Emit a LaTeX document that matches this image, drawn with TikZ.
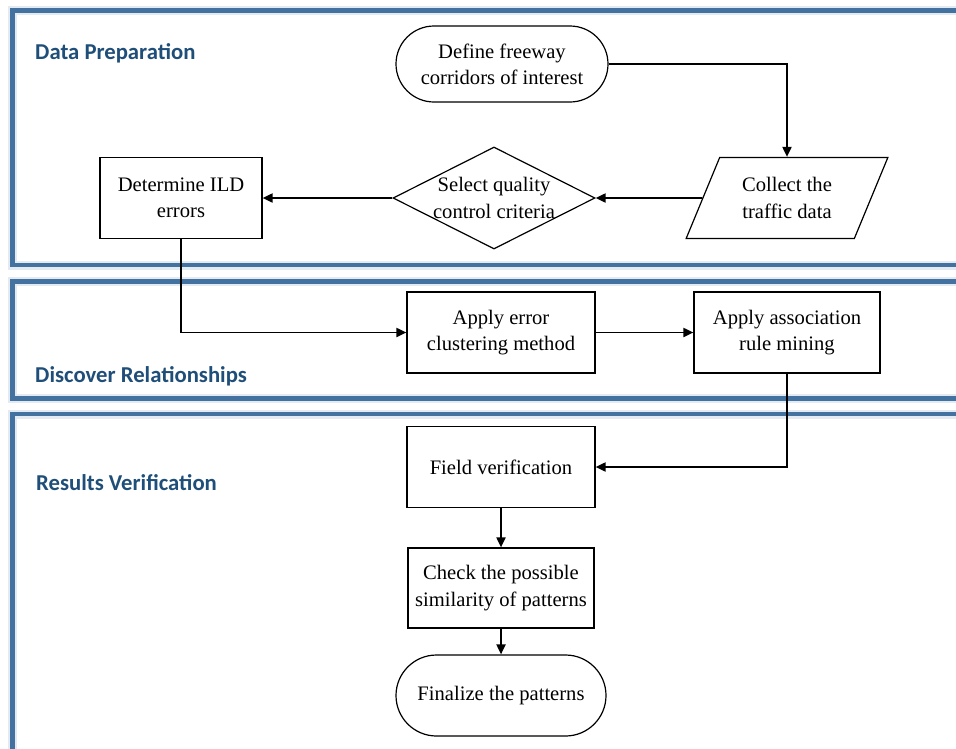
\documentclass[tikz,border=0pt]{standalone}
\usepackage{fontspec}
\setmainfont{Liberation Serif}
\newfontfamily\headfont{Carlito}
\usetikzlibrary{shapes.geometric,shapes.misc,arrows.meta}
\definecolor{panelblue}{RGB}{68,114,160}
\definecolor{headblue}{RGB}{31,78,121}

\begin{document}
\begin{tikzpicture}[x=1pt, y=-1pt,
    box/.style={draw=black, line width=1.2pt, fill=white, align=center, inner sep=3pt,
      font=\fontsize{20.6}{26.3}\selectfont},
    rect/.style={box, rectangle, minimum width=188pt, minimum height=81pt},
    term/.style={box, rounded rectangle},
    data/.style={box, trapezium, trapezium left angle=63, trapezium right angle=117,
      trapezium stretches, minimum width=202pt, minimum height=81pt},
    decision/.style={box, diamond, aspect=2, inner sep=-3pt, minimum width=202pt, minimum height=102pt},
    head/.style={anchor=base west, inner sep=0pt, text=headblue,
      font=\headfont\bfseries\fontsize{22.7}{27}\selectfont},
    panel/.style={draw=panelblue, line width=4.5pt},
    glow/.style={draw=panelblue!15, line width=9pt},
    flow/.style={line width=1.9pt, -{Triangle[length=10pt,width=9pt]}}]
  \clip (0,0) rectangle (956,748);

  % the three stages
  \draw[glow] (12.5,10.5) rectangle (1000,265);
  \draw[glow] (12.5,281.5) rectangle (1000,398.5);
  \draw[glow] (12.5,414) rectangle (1000,800);
  \draw[panel] (12.5,10.5) rectangle (1000,265);
  \draw[panel] (12.5,281.5) rectangle (1000,398.5);
  \draw[panel] (12.5,414) rectangle (1000,800);

  \node[head] (prep) at (35,59) {Data Preparation};
  \node[head] (disc) at (35,382) {Discover Relationships};
  \node[head] (verif) at (36,490) {Results Verification};

  % steps
  \node[term, minimum width=218pt, minimum height=76pt] (define) at (502,64) {Define freeway\\corridors of interest};
  \node[data] (collect) at (787,198) {Collect the\\traffic data};
  \node[decision] (select) at (494,198) {Select quality\\control criteria};
  \node[rect, minimum width=162pt] (ild) at (181,198) {Determine ILD\\errors};
  \node[rect] (cluster) at (501,332.5) {Apply error\\clustering method};
  \node[rect, minimum width=186pt] (assoc) at (787,332.5) {Apply association\\rule mining};
  \node[rect] (field) at (501,467) {Field verification};
  \node[rect, minimum width=186pt, minimum height=80pt] (check) at (501,588) {Check the possible\\similarity of patterns};
  \node[term, minimum width=216pt, minimum height=81pt] (final) at (501,695.5) {Finalize the patterns};

  % flow
  \draw[flow] (define) -| (collect);
  \draw[flow] (collect) -- (select);
  \draw[flow] (select) -- (ild);
  \draw[flow] (ild) |- (cluster);
  \draw[flow] (cluster) -- (assoc);
  \draw[flow] (assoc) |- (field);
  \draw[flow] (field) -- (check);
  \draw[flow] (check) -- (final);
\end{tikzpicture}
\end{document}
